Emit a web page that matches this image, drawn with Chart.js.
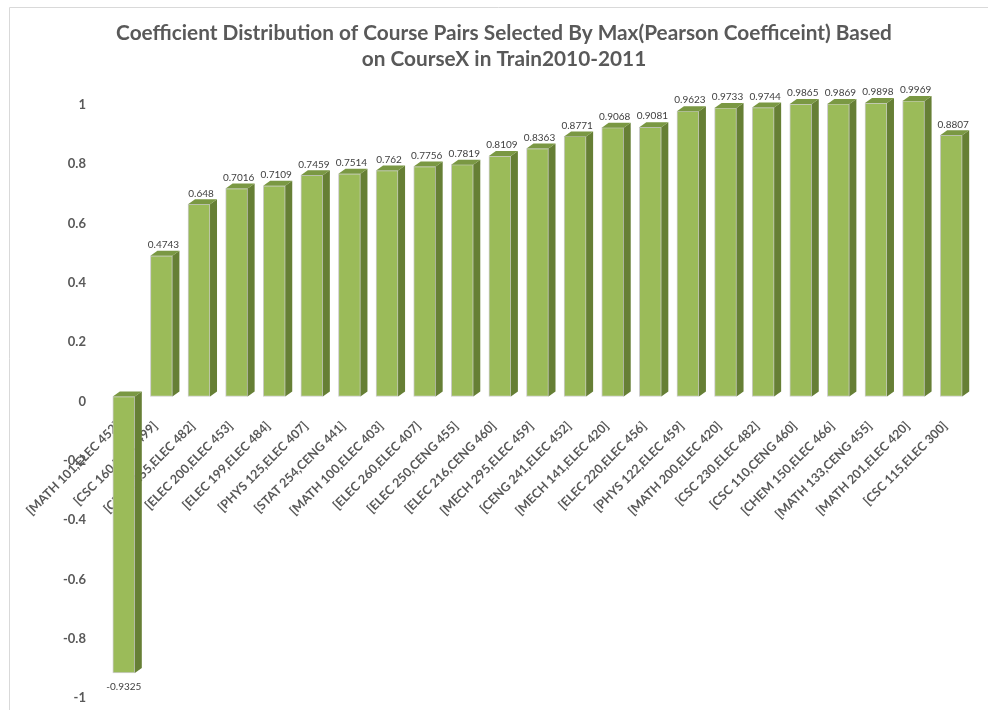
<!DOCTYPE html>
<html>
<head>
<meta charset="utf-8">
<title>Coefficient Distribution</title>
<script src="https://cdn.jsdelivr.net/npm/chart.js@4.4.0/dist/chart.umd.min.js"></script>
<style>
  html, body { margin: 0; padding: 0; background: #fff; }
  #wrap { position: relative; width: 988px; height: 710px; }
</style>
</head>
<body>
<div id="wrap"><canvas id="coefChart" width="988" height="710"></canvas></div>
<script>
// course pairs (x categories) and their max pearson coefficient
const pairs = [
  '[MATH 101,ELEC 452]', '[CSC 160,ELEC 499]', '[CENG 255,ELEC 482]', '[ELEC 200,ELEC 453]',
  '[ELEC 199,ELEC 484]', '[PHYS 125,ELEC 407]', '[STAT 254,CENG 441]', '[MATH 100,ELEC 403]',
  '[ELEC 260,ELEC 407]', '[ELEC 250,CENG 455]', '[ELEC 216,CENG 460]', '[MECH 295,ELEC 459]',
  '[CENG 241,ELEC 452]', '[MECH 141,ELEC 420]', '[ELEC 220,ELEC 456]', '[PHYS 122,ELEC 459]',
  '[MATH 200,ELEC 420]', '[CSC 230,ELEC 482]', '[CSC 110,CENG 460]', '[CHEM 150,ELEC 466]',
  '[MATH 133,CENG 455]', '[MATH 201,ELEC 420]', '[CSC 115,ELEC 300]'
];
const coefficients = [
  -0.9325, 0.4743, 0.648, 0.7016, 0.7109, 0.7459, 0.7514, 0.762,
  0.7756, 0.7819, 0.8109, 0.8363, 0.8771, 0.9068, 0.9081, 0.9623,
  0.9733, 0.9744, 0.9865, 0.9869, 0.9898, 0.9969, 0.8807
];
const yTicks = [-1, -0.8, -0.6, -0.4, -0.2, 0, 0.2, 0.4, 0.6, 0.8, 1];

const titleLines = [
  'Coefficient Distribution of Course Pairs Selected By Max(Pearson Coefficeint) Based',
  'on CourseX in Train2010-2011'
];

const FRONT = '#9BBB59';
const SIDE = '#667F35';
const TOP = '#7A9843';
const DEPTH_X = 7, DEPTH_Y = 5;

// fake 3d columns: side + top faces, then the value labels
const columns3d = {
  id: 'columns3d',
  afterDatasetsDraw(chart) {
    const ctx = chart.ctx;
    const meta = chart.getDatasetMeta(0);
    ctx.save();
    meta.data.forEach((bar, i) => {
      const p = bar.getProps(['x', 'y', 'base', 'width'], true);
      const l = p.x - p.width / 2, r = p.x + p.width / 2;
      const top = Math.min(p.y, p.base), bottom = Math.max(p.y, p.base);

      ctx.fillStyle = SIDE;
      ctx.beginPath();
      ctx.moveTo(r, top);
      ctx.lineTo(r + DEPTH_X, top - DEPTH_Y);
      ctx.lineTo(r + DEPTH_X, bottom - DEPTH_Y);
      ctx.lineTo(r, bottom);
      ctx.closePath();
      ctx.fill();

      ctx.fillStyle = TOP;
      ctx.beginPath();
      ctx.moveTo(l, top);
      ctx.lineTo(l + DEPTH_X, top - DEPTH_Y);
      ctx.lineTo(r + DEPTH_X, top - DEPTH_Y);
      ctx.lineTo(r, top);
      ctx.closePath();
      ctx.fill();

      const v = coefficients[i];
      ctx.fillStyle = '#404040';
      ctx.font = '10px Lato, "Open Sans", sans-serif';
      ctx.textAlign = 'center';
      ctx.textBaseline = 'middle';
      if (v >= 0) ctx.fillText(String(v), p.x + 2, top - 11);
      else ctx.fillText(String(v), p.x, bottom + 14);
    });
    ctx.restore();
  }
};

// thin frame along the left and top of the chart
const frame = {
  id: 'frame',
  beforeDraw(chart) {
    const ctx = chart.ctx;
    ctx.save();
    ctx.strokeStyle = '#D9D9D9';
    ctx.lineWidth = 1;
    ctx.beginPath();
    ctx.moveTo(9.5, chart.height);
    ctx.lineTo(9.5, 7.5);
    ctx.lineTo(chart.width, 7.5);
    ctx.stroke();
    ctx.restore();
  }
};

const noPad = s => { s.paddingTop = 0; s.paddingBottom = 0; s.paddingLeft = 0; s.paddingRight = 0; };

new Chart(document.getElementById('coefChart'), {
  type: 'bar',
  data: {
    labels: pairs,
    datasets: [{
      data: coefficients,
      backgroundColor: FRONT,
      borderColor: 'rgba(200,200,200,0.9)',
      borderWidth: 1,
      borderSkipped: false,
      barThickness: 22
    }]
  },
  options: {
    responsive: false,
    animation: false,
    layout: { padding: { left: 20, right: 0, top: 0, bottom: 17 } },
    plugins: {
      legend: { display: false },
      tooltip: { enabled: false },
      title: {
        display: true,
        text: titleLines,
        color: '#595959',
        font: { family: 'Lato, "Open Sans", sans-serif', size: 20.8, weight: 'bold', lineHeight: 1.25 },
        padding: { top: 20, bottom: 28 }
      }
    },
    scales: {
      x: {
        position: { y: 0 },
        afterFit: noPad,
        grid: { display: false, drawTicks: false },
        border: { display: false },
        ticks: {
          autoSkip: false,
          minRotation: 45,
          maxRotation: 45,
          padding: 22,
          labelOffset: -6,
          color: '#595959',
          font: { family: 'Lato, "Open Sans", sans-serif', size: 12.5, weight: 'bold' }
        }
      },
      y: {
        min: -1,
        max: 1,
        afterFit: s => { noPad(s); s.width = 85; },
        afterBuildTicks: s => { s.ticks = yTicks.map(v => ({ value: v })); },
        grid: { display: false, drawTicks: false },
        border: { display: false },
        ticks: {
          padding: 19,
          labelOffset: 5,
          color: '#595959',
          font: { family: 'Lato, "Open Sans", sans-serif', size: 13, weight: 'bold' },
          callback: v => String(Math.round(v * 10) / 10)
        }
      },
      // empty gutter on the right so the last column keeps some room
      gutter: {
        axis: 'y',
        position: 'right',
        afterFit: s => { noPad(s); s.width = 18; },
        grid: { display: false, drawTicks: false },
        border: { display: false },
        ticks: { display: false }
      }
    }
  },
  plugins: [frame, columns3d]
});
</script>
</body>
</html>
